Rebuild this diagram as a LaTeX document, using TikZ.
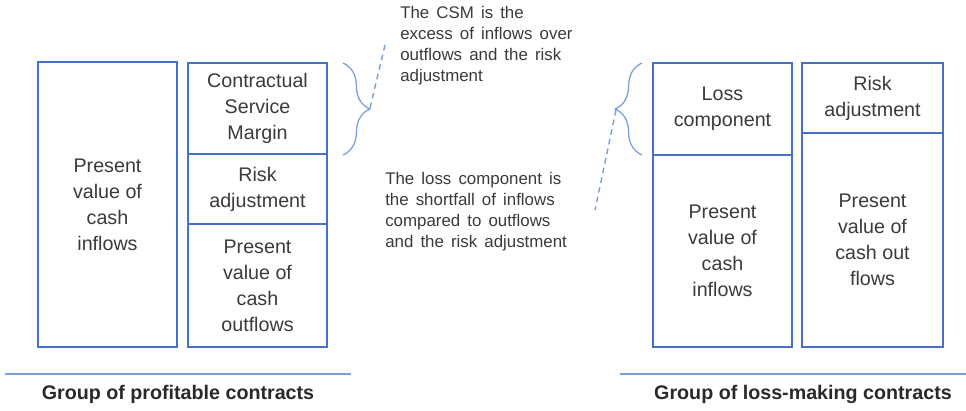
\documentclass[tikz,border=0pt]{standalone}
\usepackage{fontspec}
\setmainfont{Liberation Sans}
\usetikzlibrary{positioning,decorations.pathreplacing}
\definecolor{boxblue}{HTML}{4472C4}
\definecolor{lightblue}{HTML}{7C9FDB}
\definecolor{textgray}{HTML}{3A3A3A}
\newcommand\widespacing{\spaceskip=0.42em\relax}
\tikzset{
    box/.style={draw=boxblue, line width=1.3pt, outer sep=0pt, inner sep=2pt, minimum width=3.475cm, align=center, text=textgray, font=\fontsize{14}{18.5}\selectfont},
    note/.style={anchor=north west, align=left, inner sep=0pt, text=textgray, font=\fontsize{12}{14.9}\selectfont\widespacing},
    grouptitle/.style={text=textgray!70!black, font=\fontsize{14}{17}\selectfont\bfseries},
    groupline/.style={draw=lightblue, line width=0.8pt},
    curly/.style={draw=lightblue, line width=0.9pt, decorate, decoration={brace, amplitude=0.67cm}},
    lead/.style={draw=lightblue, line width=1pt, dash pattern=on 4pt off 3pt}
}
\begin{document}
\begin{tikzpicture}[x=0.025cm, y=-0.025cm]
        \useasboundingbox (0,0) rectangle (966,410);

        % Profitable group
        \node[box, minimum height=7.125cm] (inL) at (107.5,204.5) {Present\\value of\\cash\\inflows};
        \node[box, minimum height=2.275cm] (csm) at (257.5,108.5) {Contractual\\Service\\Margin};
        \node[box, minimum height=1.75cm, below=0pt of csm] (riskL) {Risk\\adjustment};
        \node[box, minimum height=3.075cm, below=0pt of riskL] (outL) {Present\\value of\\cash\\outflows};

        % Loss-making group
        \node[box, minimum height=2.3cm] (loss) at (722.5,109) {Loss\\component};
        \node[box, minimum height=4.8cm, below=0pt of loss] (inR) {Present\\value of\\cash\\inflows};
        \node[box, minimum width=3.525cm, minimum height=1.75cm] (riskR) at (872.5,98) {Risk\\adjustment};
        \node[box, minimum width=3.525cm, minimum height=5.35cm, below=0pt of riskR] (outR) {Present\\value of\\cash out\\flows};

        % Notes
        \node[note] (csmnote) at (400,6) {The CSM is the\\excess of inflows over\\outflows and the risk\\adjustment};
        \node[note] (lossnote) at (385,172) {The loss component is\\the shortfall of inflows\\compared to outflows\\and the risk adjustment};

        % Braces
        \draw[curly] (343,63) -- (343,155);
        \draw[curly] (642,155) -- (642,63);
        \coordinate (csmtip) at (370,108);
        \coordinate (csmend) at (385,45);
        \coordinate (losstip) at (616,110);
        \coordinate (lossend) at (595,210);
        \draw[lead] (csmtip) -- (csmend);
        \draw[lead] (losstip) -- (lossend);

        % Group titles
        \draw[groupline] (5,374) -- (351,374);
        \draw[groupline] (620,374) -- (966,374);
        \node[grouptitle] (profit) at (178,394) {Group of profitable contracts};
        \node[grouptitle] (lossmaking) at (803,394) {Group of loss-making contracts};

    \end{tikzpicture}
\end{document}
